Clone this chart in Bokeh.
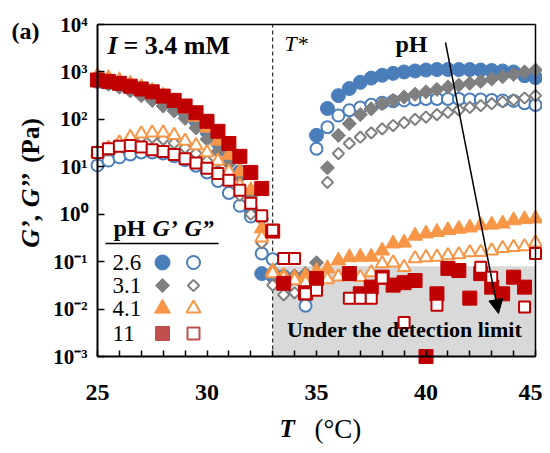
import numpy as np
from bokeh.plotting import figure
from bokeh.models import (Range1d, Label, Arrow, NormalHead, FixedTicker,
                          LinearAxis, LogAxis)
from bokeh.embed import file_html
from bokeh.resources import INLINE

nan = float("nan")

# ---------------- data ----------------
T = [25.0, 25.5, 26.0, 26.5, 27.0, 27.5, 28.0, 28.5, 29.0, 29.5,
     30.0, 30.5, 31.0, 31.5, 32.0, 32.5, 33.0, 33.5, 34.0, 34.5,
     35.0, 35.5, 36.0, 36.5, 37.0, 37.5, 38.0, 38.5, 39.0, 39.5,
     40.0, 40.5, 41.0, 41.5, 42.0, 42.5, 43.0, 43.5, 44.0, 44.5, 45.0]

ph_labels = ["2.6", "3.1", "4.1", "11"]

# pH 2.6
G1_ph26 = [631, 589, 537, 457, 398, 331, 263, 200, 141, 93,
           56, 32, 17, 7.9, 1.26, 0.056, 0.050, 0.045, 0.032, 0.018,
           46, 170, 316, 447, 603, 741, 851, 933, 1000, 1047,
           1096, 1122, 1122, 1122, 1122, 1096, 1072, 1047, 1000, 832, 759]
G2_ph26 = [10.7, 13.5, 15.8, 18.2, 20.0, 20.0, 19.1, 16.6, 13.8, 10.5,
           7.6, 5.0, 2.8, 1.5, 0.89, 0.148, 0.112, 0.050, 0.025, 0.0117,
           24, 68, 120, 155, 178, 204, 224, 240, 251, 263,
           269, 269, 269, 269, 263, 263, 257, 251, 245, 219, 200]
# pH 3.1
G1_ph31 = [603, 550, 479, 398, 316, 251, 191, 151, 105, 66,
           38, 21, 11.5, 6.0, 2.4, 0.79, 0.063, 0.050, 0.050, 0.056,
           0.095, 9.5, 46, 81, 126, 166, 214, 251, 295, 339,
           380, 427, 479, 525, 575, 631, 708, 794, 891, 1000, 1096]
G2_ph31 = [17.8, 22.4, 30.2, 38.0, 41.7, 41.7, 38.0, 31.6, 25.1, 19.1,
           13.2, 8.3, 5.0, 2.5, 1.0, 0.25, 0.032, 0.020, 0.022, 0.032,
           0.050, 4.7, 19, 31, 42, 52, 63, 74, 85, 100,
           112, 126, 141, 158, 178, 195, 214, 234, 257, 282, 316]
# pH 4.1
G1_ph41 = [832, 741, 661, 562, 479, 398, 316, 240, 166, 112,
           66, 35, 17.8, 7.9, 3.2, 0.50, 0.063, 0.050, 0.045, 0.050,
           0.063, 0.072, 0.105, 0.123, 0.126, 0.126, 0.17, 0.24, 0.25, 0.35,
           0.39, 0.42, 0.46, 0.49, 0.52, 0.58, 0.60, 0.63, 0.74, 0.78, 0.81]
G2_ph41 = [20, 25, 32, 42, 50, 52, 52, 46, 35, 28,
           20, 13.2, 7.9, 4.0, 1.6, 0.32, 0.056, 0.045, 0.040, 0.036,
           0.040, 0.042, 0.048, 0.050, 0.047, 0.059, 0.091, 0.095, 0.076, 0.117,
           0.123, 0.126, 0.135, 0.141, 0.155, 0.158, 0.170, 0.191, 0.200, 0.209, 0.251]
# pH 11
G1_ph11 = [676, 631, 575, 501, 437, 380, 309, 251, 191, 138,
           91, 56, 31, 16.6, 7.6, 3.5, 0.44, 0.035, nan, 0.022,
           0.044, nan, nan, 0.056, 0.021, 0.029, 0.047, 0.032, 0.036, 0.040,
           0.001, 0.021, 0.072, 0.065, 0.017, 0.056, 0.029, 0.021, 0.047, 0.029, nan]
G2_ph11 = [20, 24, 27, 28, 26, 23, 21, 18.2, 14.8, 12.0,
           9.3, 7.2, 5.2, 3.2, 1.7, 0.93, 0.46, 0.117, 0.117, 0.021,
           0.025, nan, nan, 0.017, 0.017, 0.017, 0.045, nan, 0.0052, nan,
           nan, 0.012, nan, nan, nan, 0.076, 0.047, nan, nan, 0.011, 0.148]

x_ticks = [25, 30, 35, 40, 45]
x_minor = [26, 27, 28, 29, 31, 32, 33, 34, 36, 37, 38, 39, 41, 42, 43, 44]
y_ticks = [1e-3, 1e-2, 1e-1, 1e0, 1e1, 1e2, 1e3, 1e4]
y_tick_labels = ["10⁻³", "10⁻²", "10⁻¹", "10⁰", "10¹", "10²", "10³", "10⁴"]
x_lo, x_hi = 25, 45
y_lo, y_hi = 1e-3, 1e4
T_star = 33
detection_limit = 0.08

# ---------------- styles ----------------
BLUE = "#4a7ebb"
GRAY = "#7f7f7f"
ORANGE = "#f79646"
RED = "#c00000"
LEG_RED = "#c0504d"
SERIF = "Liberation Serif"

W, H = 542, 445
# plot box in pixels: left 97, right 535, top 24, bottom 356
PX_PER_DEG = (535 - 97) / (x_hi - x_lo)
PX_PER_DEC = (356 - 24) / 7.0

def X(px):
    return x_lo + (px - 97) / PX_PER_DEG

def Y(py):
    return 10 ** (4 - (py - 24) / PX_PER_DEC)

p = figure(width=W, height=H, y_axis_type="log",
           x_range=Range1d(X(0), X(W)), y_range=Range1d(Y(H), Y(0)),
           x_axis_location=None, y_axis_location=None,
           output_backend="svg", toolbar_location=None,
           min_border=0, min_border_left=0, min_border_right=0,
           min_border_top=0, min_border_bottom=0)
p.grid.visible = False
p.background_fill_color = "white"
p.border_fill_color = "white"
p.outline_line_color = None

# ---------------- axes ----------------
xax = LinearAxis(fixed_location=y_lo, bounds=(x_lo, x_hi),
                 ticker=FixedTicker(ticks=x_ticks, minor_ticks=x_minor))
yax = LogAxis(fixed_location=x_lo, bounds=(y_lo, y_hi),
              ticker=FixedTicker(ticks=y_ticks, minor_ticks=[]))
yax.major_label_overrides = {v: s for v, s in zip(y_ticks, y_tick_labels)}
for ax in (xax, yax):
    ax.axis_line_width = 2
    ax.axis_line_color = "black"
    ax.major_tick_line_color = "black"
    ax.minor_tick_line_color = "black"
    ax.major_tick_line_width = 1.5
    ax.minor_tick_line_width = 1.5
    ax.major_tick_out = 0
    ax.minor_tick_out = 0
    ax.major_label_text_font = SERIF
    ax.major_label_text_font_style = "bold"
    ax.major_label_text_color = "black"
xax.major_tick_in = 6
xax.minor_tick_in = 6
yax.major_tick_in = 7
yax.minor_tick_in = 0
xax.major_label_text_font_size = "24px"
yax.major_label_text_font_size = "21px"
xax.major_label_standoff = 28
yax.major_label_standoff = 10
p.add_layout(xax, "below")
p.add_layout(yax, "left")

# top and right edges of the box
topax = LinearAxis(fixed_location=y_hi, bounds=(x_lo, x_hi),
                   ticker=FixedTicker(ticks=[], minor_ticks=[]))
rightax = LogAxis(fixed_location=x_hi, bounds=(y_lo, y_hi),
                  ticker=FixedTicker(ticks=[], minor_ticks=[]))
for ax in (topax, rightax):
    ax.axis_line_width = 1.5
    ax.axis_line_color = "black"
    ax.major_label_text_font_size = "0px"
    ax.major_tick_line_color = None
    ax.minor_tick_line_color = None
p.add_layout(topax, "above")
p.add_layout(rightax, "right")

# shaded "under detection limit" region and T* line
p.quad(left=[T_star], right=[x_hi], bottom=[y_lo], top=[detection_limit],
       fill_color="#d9d9d9", line_color=None)
p.segment(x0=[T_star], y0=[y_lo], x1=[T_star], y1=[y_hi],
          line_color="black", line_width=1, line_dash="4 3")

# ---------------- data markers ----------------
series = [
    (G1_ph26, "circle", BLUE, True, 14, 0),
    (G2_ph26, "circle", BLUE, False, 12, 0),
    (G1_ph31, "square", GRAY, True, 10, np.pi / 4),
    (G2_ph31, "square", GRAY, False, 8, np.pi / 4),
    (G1_ph41, "triangle", ORANGE, True, 15, 0),
    (G2_ph41, "triangle", ORANGE, False, 13, 0),
    (G1_ph11, "square", RED, True, 14, 0),
    (G2_ph11, "square", RED, False, 11, 0),
]
for vals, mk, col, filled, sz, ang in series:
    if filled:
        p.scatter(T, vals, marker=mk, size=sz, angle=ang,
                  fill_color=col, line_color=col, line_width=1)
    else:
        p.scatter(T, vals, marker=mk, size=sz, angle=ang,
                  fill_color="white", line_color=col, line_width=2)

# ---------------- annotations ----------------
def lab(px, py, text, size, style="bold", align="left", angle=0.0):
    # py is the vertical centre of the text in picture pixels
    p.add_layout(Label(x=X(px), y=Y(py), text=text, text_font=SERIF,
                       text_font_size=f"{size}px", text_font_style=style,
                       text_color="black", text_align=align,
                       text_baseline="middle", angle=angle))

lab(11, 30, "(a)", 24)
lab(107, 45, "I", 26, "bold italic")
lab(123, 45, "= 3.4 mM", 26)
lab(284, 43, "T*", 22, "italic")
lab(395, 43, "pH", 24)
lab(404, 329, "Under the detection limit", 22, align="center")

# axis titles
lab(279, 428, "T", 25, "bold italic")
lab(314, 428, "(°C)", 27, "normal")
lab(30, 210, "G’, G’’", 26, "bold italic", align="center", angle=np.pi / 2)
lab(30, 140, "(Pa)", 25, "bold", align="center", angle=np.pi / 2)

# arrow
p.add_layout(Arrow(end=NormalHead(size=14, fill_color="black", line_color="black"),
                   x_start=X(445), y_start=Y(42), x_end=X(498), y_end=Y(313),
                   line_color="black", line_width=1.5))

# ---------------- legend (manual table) ----------------
lab(113, 227, "pH", 24)
lab(152, 227, "G’", 24, "bold italic")
lab(184, 227, "G”", 24, "bold italic")
p.segment(x0=[X(105)], y0=[Y(243)], x1=[X(218)], y1=[Y(243)],
          line_color="black", line_width=1.5)
row_y = [262, 285, 308, 333]
leg_markers = [("circle", BLUE, 15, 0), ("square", GRAY, 10, np.pi / 4),
               ("triangle", ORANGE, 16, 0), ("square", LEG_RED, 14, 0)]
for ry, txt, (mk, col, sz, ang) in zip(row_y, ph_labels, leg_markers):
    lab(112, ry, txt, 23, "normal")
    p.scatter([X(162)], [Y(ry)], marker=mk, size=sz, angle=ang,
              fill_color=col, line_color=col)
    p.scatter([X(193)], [Y(ry)], marker=mk, size=sz - 2, angle=ang,
              fill_color="white", line_color=col, line_width=2)

open("out.html", "w").write(file_html(p, INLINE))
